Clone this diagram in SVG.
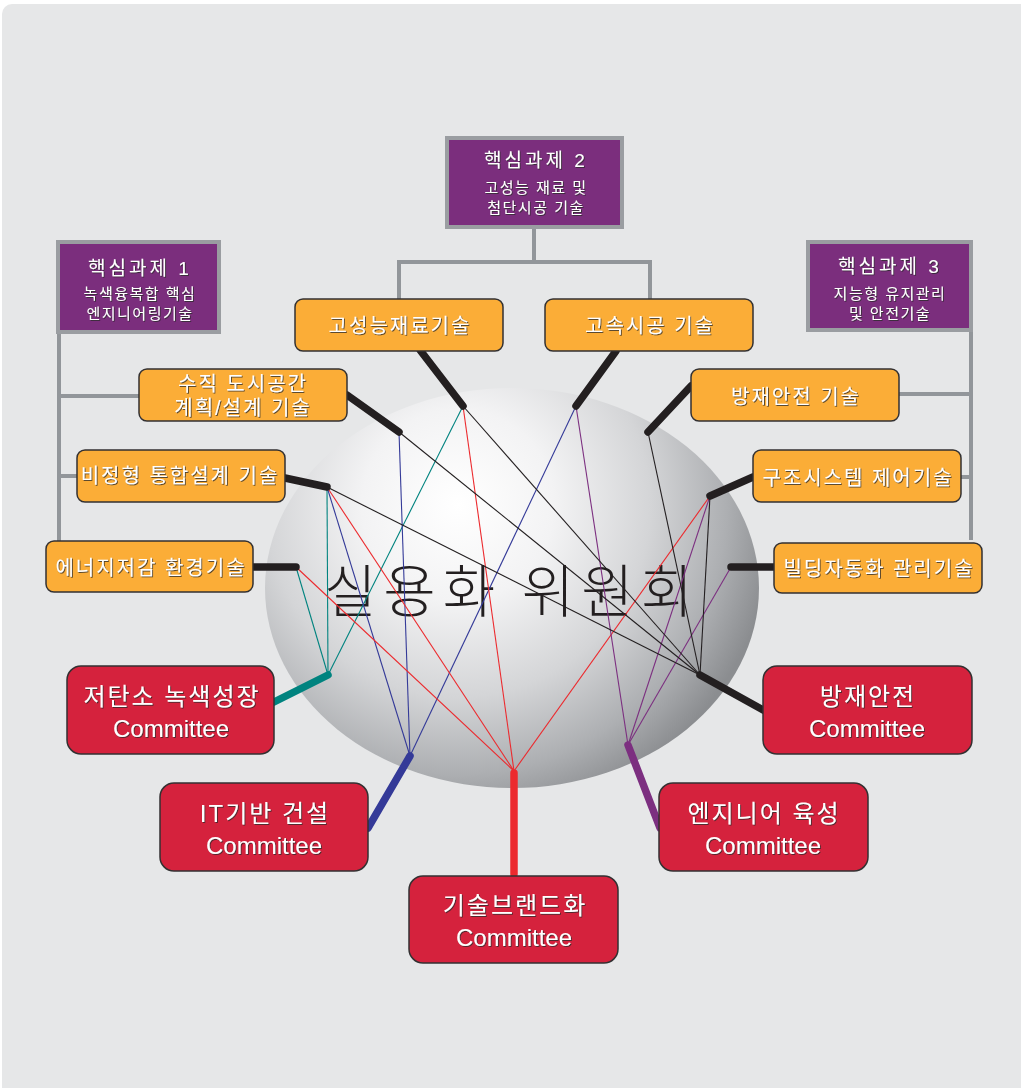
<svg xmlns="http://www.w3.org/2000/svg" width="1021" height="1088" viewBox="0 0 1021 1088">
  <defs>
    <radialGradient id="sphereShade" gradientUnits="userSpaceOnUse" cx="458" cy="505" r="320">
      <stop offset="0" stop-color="#ffffff"/>
      <stop offset="0.3" stop-color="#f3f3f4"/>
      <stop offset="0.6" stop-color="#d4d5d7"/>
      <stop offset="0.84" stop-color="#adafb2"/>
      <stop offset="1" stop-color="#8b8d90"/>
    </radialGradient>
    <filter id="emboss" x="-10%" y="-30%" width="120%" height="160%">
      <feDropShadow dx="0.9" dy="0.9" stdDeviation="0.35" flood-color="#2a2a2a" flood-opacity="0.85"/>
    </filter>
    <style>
      .txt { font-family: "Liberation Sans", "Noto Sans CJK KR", sans-serif; fill: #ffffff; text-anchor: middle; filter: url(#emboss); }
      .ko { letter-spacing: 2px; }
      .core { fill: #7b2e7d; stroke: #9a9da1; stroke-width: 4; }
      .tech { fill: #fbad37; stroke: #333132; stroke-width: 1.5; }
      .cmte { fill: #d5223d; stroke: #333132; stroke-width: 1.5; }
      .tree { fill: none; stroke: #92969a; stroke-width: 4; }
      .thick { stroke-width: 7.5; stroke-linecap: round; fill: none; }
      .thin { stroke-width: 1.1; fill: none; }
      .k { stroke: #231f20; }
      .teal { stroke: #00837f; }
      .navy { stroke: #343a98; }
      .red { stroke: #ec2a2e; }
      .purp { stroke: #7c2f80; }
      .t-core { font-size: 19px; letter-spacing: 3px; }
      .t-sub { font-size: 15px; letter-spacing: 1.5px; }
      .t-tech { font-size: 20px; }
      .t-cmte { font-size: 24px; }
    </style>
  </defs>

  <!-- page -->
  <rect x="0" y="0" width="1021" height="1088" fill="#ffffff"/>
  <rect x="2" y="4" width="1040" height="1100" rx="10" fill="#e6e7e8"/>

  <!-- sphere -->
  <ellipse cx="512" cy="588" rx="247" ry="200" fill="url(#sphereShade)"/>
  <text x="512" y="612" font-family="Noto Sans CJK KR, sans-serif" font-weight="300" font-size="57" letter-spacing="7" fill="#231f20" text-anchor="middle">실용화 위원회</text>

  <g id="connectors">
    <!-- hierarchy tree -->
    <polyline class="tree" points="534,228 534,262"/>
    <polyline class="tree" points="399,299 399,262 650,262 650,299"/>
    <polyline class="tree" points="59,333 59,541"/>
    <line class="tree" x1="59" y1="396" x2="139" y2="396"/>
    <line class="tree" x1="59" y1="476" x2="77" y2="476"/>
    <polyline class="tree" points="971,331 971,540"/>
    <line class="tree" x1="899" y1="394" x2="971" y2="394"/>
    <line class="tree" x1="961" y1="477" x2="971" y2="477"/>

    <!-- links between technologies and committees -->
    <g class="thin teal">
      <line x1="327" y1="487" x2="328" y2="675"/>
      <line x1="296" y1="567" x2="328" y2="675"/>
      <line x1="463" y1="406" x2="328" y2="675"/>
    </g>
    <g class="thin navy">
      <line x1="399" y1="432" x2="410" y2="756"/>
      <line x1="327" y1="487" x2="410" y2="756"/>
      <line x1="576" y1="406" x2="410" y2="756"/>
    </g>
    <g class="thin red">
      <line x1="463" y1="406" x2="514" y2="771"/>
      <line x1="327" y1="487" x2="514" y2="771"/>
      <line x1="296" y1="567" x2="514" y2="771"/>
      <line x1="710" y1="496" x2="514" y2="771"/>
    </g>
    <g class="thin purp">
      <line x1="576" y1="406" x2="628" y2="745"/>
      <line x1="710" y1="496" x2="628" y2="745"/>
      <line x1="731" y1="567" x2="628" y2="745"/>
    </g>
    <g class="thin k">
      <line x1="399" y1="432" x2="700" y2="675"/>
      <line x1="463" y1="406" x2="700" y2="675"/>
      <line x1="327" y1="487" x2="700" y2="675"/>
      <line x1="648" y1="432" x2="700" y2="675"/>
      <line x1="710" y1="496" x2="700" y2="675"/>
    </g>

    <!-- stems of technology boxes -->
    <g class="thick k">
      <line x1="420" y1="350" x2="463" y2="406"/>
      <line x1="616" y1="351" x2="576" y2="406"/>
      <line x1="347" y1="395" x2="399" y2="432"/>
      <line x1="285" y1="478" x2="327" y2="487"/>
      <line x1="253" y1="567" x2="296" y2="567"/>
      <line x1="691" y1="386" x2="648" y2="432"/>
      <line x1="753" y1="477" x2="710" y2="496"/>
      <line x1="774" y1="567" x2="731" y2="567"/>
    </g>
    <!-- stems of committee boxes -->
    <line class="thick teal" x1="274" y1="702" x2="328" y2="675"/>
    <line class="thick navy" x1="368" y1="828" x2="410" y2="756"/>
    <line class="thick red" x1="514" y1="773" x2="514" y2="874"/>
    <line class="thick purp" x1="660" y1="828" x2="628" y2="745"/>
    <line class="thick k" x1="765" y1="711" x2="700" y2="675"/>
  </g>

  <!-- core tasks -->
  <g id="core-2">
    <rect class="core" x="447" y="138" width="175" height="89"/>
    <text class="txt t-core" x="536" y="167">핵심과제 2</text>
    <text class="txt t-sub" x="536" y="193">고성능 재료 및</text>
    <text class="txt t-sub" x="536" y="213">첨단시공 기술</text>
  </g>
  <g id="core-1">
    <rect class="core" x="58" y="242" width="161" height="90"/>
    <text class="txt t-core" x="140" y="275">핵심과제 1</text>
    <text class="txt t-sub" x="140" y="299">녹색융복합 핵심</text>
    <text class="txt t-sub" x="140" y="319">엔지니어링기술</text>
  </g>
  <g id="core-3">
    <rect class="core" x="808" y="242" width="163" height="88"/>
    <text class="txt t-core" x="890" y="273">핵심과제 3</text>
    <text class="txt t-sub" x="890" y="299">지능형 유지관리</text>
    <text class="txt t-sub" x="890" y="319">및 안전기술</text>
  </g>

  <!-- technologies -->
  <g id="tech-materials">
    <rect class="tech" x="295" y="299" width="208" height="52" rx="8"/>
    <text class="txt t-tech ko" x="400" y="333">고성능재료기술</text>
  </g>
  <g id="tech-construction">
    <rect class="tech" x="545" y="299" width="208" height="52" rx="8"/>
    <text class="txt t-tech ko" x="650" y="333">고속시공 기술</text>
  </g>
  <g id="tech-vertical">
    <rect class="tech" x="139" y="369" width="208" height="52" rx="8"/>
    <text class="txt t-tech ko" x="243" y="391">수직 도시공간</text>
    <text class="txt t-tech ko" x="243" y="415">계획/설계 기술</text>
  </g>
  <g id="tech-freeform">
    <rect class="tech" x="77" y="450" width="208" height="52" rx="8"/>
    <text class="txt t-tech ko" x="180" y="483">비정형 통합설계 기술</text>
  </g>
  <g id="tech-energy">
    <rect class="tech" x="46" y="541" width="207" height="51" rx="8"/>
    <text class="txt t-tech ko" x="151" y="575">에너지저감 환경기술</text>
  </g>
  <g id="tech-disaster">
    <rect class="tech" x="691" y="369" width="208" height="52" rx="8"/>
    <text class="txt t-tech ko" x="796" y="404">방재안전 기술</text>
  </g>
  <g id="tech-structure">
    <rect class="tech" x="753" y="450" width="208" height="52" rx="8"/>
    <text class="txt t-tech ko" x="858" y="485">구조시스템 제어기술</text>
  </g>
  <g id="tech-automation">
    <rect class="tech" x="774" y="543" width="208" height="50" rx="8"/>
    <text class="txt t-tech ko" x="879" y="576">빌딩자동화 관리기술</text>
  </g>

  <!-- committees -->
  <g id="cmte-lowcarbon">
    <rect class="cmte" x="67" y="666" width="207" height="88" rx="14"/>
    <text class="txt t-cmte ko" x="172" y="705">저탄소 녹색성장</text>
    <text class="txt t-cmte" x="171" y="737">Committee</text>
  </g>
  <g id="cmte-it">
    <rect class="cmte" x="160" y="783" width="208" height="88" rx="14"/>
    <text class="txt t-cmte ko" x="265" y="822">IT기반 건설</text>
    <text class="txt t-cmte" x="264" y="854">Committee</text>
  </g>
  <g id="cmte-brand">
    <rect class="cmte" x="409" y="876" width="209" height="87" rx="14"/>
    <text class="txt t-cmte ko" x="515" y="914">기술브랜드화</text>
    <text class="txt t-cmte" x="514" y="946">Committee</text>
  </g>
  <g id="cmte-engineer">
    <rect class="cmte" x="659" y="783" width="209" height="88" rx="14"/>
    <text class="txt t-cmte ko" x="764" y="822">엔지니어 육성</text>
    <text class="txt t-cmte" x="763" y="854">Committee</text>
  </g>
  <g id="cmte-safety">
    <rect class="cmte" x="763" y="666" width="209" height="88" rx="14"/>
    <text class="txt t-cmte ko" x="868" y="705">방재안전</text>
    <text class="txt t-cmte" x="867" y="737">Committee</text>
  </g>
</svg>
